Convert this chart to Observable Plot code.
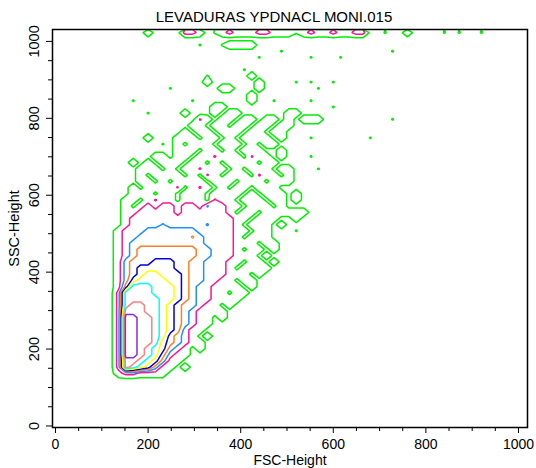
<!DOCTYPE html>
<html><head><meta charset="utf-8">
<script src="https://cdn.jsdelivr.net/npm/d3@7"></script>
<script src="https://cdn.jsdelivr.net/npm/@observablehq/plot@0.6"></script>
<style>body{margin:0;background:#fff} svg{display:block}</style>
</head><body><div id="chart"></div>
<script>
const title = "LEVADURAS YPDNACL MONI.015";
const xLabel = "FSC-Height";
const yLabel = "SSC-Height";
const majorTicks = [0, 200, 400, 600, 800, 1000];
const minorTicks = [50, 100, 150, 250, 300, 350, 450, 500, 550, 650, 700, 750, 850, 900, 950];
const levelThresholds = [0.3, 1.5, 2.5, 3.5, 4.5, 5.5, 6.5, 7.5, 8.5];
const levelColors = ["#00f000", "#ff1493", "#1e90ff", "#ff7f24", "#0000e0", "#ffff00", "#00ffff", "#ff7f7f", "#8a2be2"];
const gridCols = 64, gridRows = 64; // 16 channels per cell
// density level per cell, top row first; "." ":" ";" "!" = values just over a level
const densityRows = [
"0000000000 0010000221 0.12111221 11.1211211 2200.00100 00.0.00.00",
"",
"0000000000 000000000. 00.1111000",
"0000000000 0000000000 0000000000 .000000000 00000.0000",
"0000000000 0000000000 0000000.00 0000.000.0",
"",
"0000000000 0000000000 00000.0000",
"0000000000 0000000000 .000001000",
"0000000000 0000000000 1000000100 00.0.00.00",
"0000000000 00000.0000 0011000100 00000.0000",
"0000000000 0000000000 0000001000",
"0000000000 .0000000.0 000000100. 0000.00000",
"0000000000 0000000000 0110000000 0000000.00",
"0000000000 00.0000100 0101100000 0110000000",
"0000000000 000000000: 1011011011 0101110000 00000.0000",
"0000000000 0000000011 0110110110 1100000000",
"0000000000 0000000101 1011101101 1000000000",
"0000000000 0010001110 1101011110 1000.00000 00.0000000",
"0000000000 0000.01011 1011101011",
"0000000000 0000001110 1101011100 1000000000",
"0000000000 0001101101 1:1110:110 1000.00000",
"0000000000 1010111011 0101111011",
"0000000000 011101011: 1110101110 11000.0000",
"0000000000 0101111010 :101110:11 0100000000",
"0000000000 0110101111 0111011101 1100000000",
"0000000000 101111:01: 1010110111",
"0000000000 1110110111 0111101011 1010000000",
"0000000001 101:110111 0:11011101 1010000000",
"0000000001 0121221221 ;221101110 1000000000",
"0000000001 1222221222 2221011011 1111000000",
"0000000001 2222222222 2222110111 0010000000",
"0000000001 2222;22222 ;222101110 1000000000",
"0000000012 2233333332 2222110110 00.0000000",
"0000000012 23333333!3 2222101110 0000000000",
"0000000012 3333333333 2222111011 0000000000",
"0000000012 3444444443 3222101101",
"0000000012 3444444443 3222111010",
"0000000013 4445554433 2221101101",
"0000000013 4555554433 2221011110",
"0000000013 4566555433 2221110100",
"0000000013 5666655433 2211011000",
"0000000014 7776665432 2111101000",
"0000000027 7776665432 2110110000",
"0000000027 7777665432 2111100000",
"0000000027 8877654332 1101000000",
"0000000028 8877654321 1110000000",
"0000000029 9887654321 1010000000",
"0000000029 9887654321 1000000000",
"0000000029 9887654211",
"0000000029 9887643210 1000000000",
"0000000029 9887543211",
"0000000029 9876532101",
"0000000029 9876421100",
"0000000028 8765311000",
"0000000028 7653110100",
"0000000012 2111100000",
"", "", "", "", "", "", "", ""
];
const codeValue = {".": 0.35, ":": 1.6, ";": 2.6, "!": 3.6};
const rows = densityRows.slice(0, gridRows);
while (rows.length < gridRows) rows.push("");
const values = rows.flatMap(r => Array.from(r.replace(/ /g, "").padEnd(gridCols, "0").slice(0, gridCols),
  ch => ch in codeValue ? codeValue[ch] : +ch));

const plot = Plot.plot({
  width: 536, height: 468,
  marginLeft: 52, marginRight: 9, marginTop: 29, marginBottom: 41,
  style: {fontFamily: "'Liberation Sans', Arial, sans-serif", fontSize: "14px", color: "black", background: "white"},
  x: {domain: [-6.5, 1019.5]},
  y: {domain: [-4, 1031]},
  marks: [
    ...levelThresholds.map((t, i) => Plot.contour(values, {
      width: gridCols, height: gridRows, x1: 0, x2: 1024, y1: 1031, y2: 0,
      value: Plot.identity, thresholds: [t], stroke: levelColors[i], fill: "none",
      strokeWidth: 1.5, clip: true
    })),
    Plot.frame({stroke: "black", strokeWidth: 1.5}),
    Plot.axisX({ticks: minorTicks, tickSize: 4, text: null, label: null}),
    Plot.axisX({ticks: majorTicks, tickSize: 6, tickPadding: 6, tickFormat: "d", fontSize: 14,
      label: xLabel, labelAnchor: "center", labelOffset: 37, labelArrow: "none"}),
    Plot.axisY({ticks: minorTicks, tickSize: 4, text: null, label: null}),
    Plot.axisY({ticks: majorTicks, tickSize: 6, tickPadding: 8, tickRotate: -90, tickFormat: "d", fontSize: 14.5,
      label: yLabel, labelAnchor: "center", labelOffset: 44, labelArrow: "none"}),
    Plot.text([title], {frameAnchor: "top", dx: -16, dy: -12, lineAnchor: "middle", fontSize: 15})
  ]
});
document.getElementById("chart").append(plot);
</script>
</body></html>
